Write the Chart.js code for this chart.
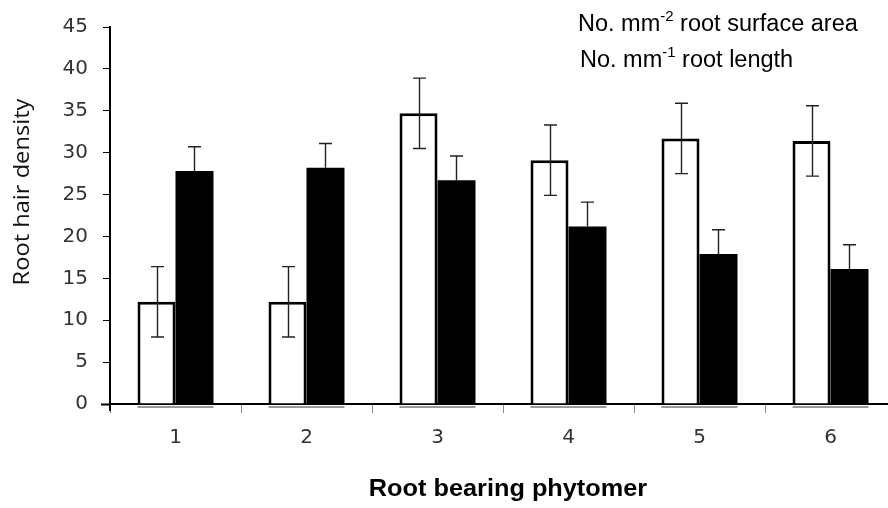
<!DOCTYPE html>
<html>
<head>
<meta charset="utf-8">
<script src="https://cdn.jsdelivr.net/npm/chart.js@4.4.1/dist/chart.umd.min.js"></script>
<style>
    html, body { margin: 0; padding: 0; background: #fff; overflow: hidden; }
    #wrap { width: 896px; height: 508px; }
</style>
</head>
<body>
<div id="wrap"><canvas id="chart" width="896" height="508"></canvas></div>
<script>
const categories = ['1', '2', '3', '4', '5', '6'];
const surfaceValues = [12.2, 12.2, 34.7, 29.1, 31.7, 31.4];
const surfaceErrors = [4.2, 4.2, 4.2, 4.2, 4.2, 4.2];
const lengthValues = [27.8, 28.2, 26.7, 21.2, 17.9, 16.1];
const lengthErrors = [2.9, 2.9, 2.9, 2.9, 2.9, 2.9];
const yTicks = [0, 5, 10, 15, 20, 25, 30, 35, 40, 45];

// error bars, drawn through the scales (black bars only show the upper half)
const errorBars = {
    id: 'errorBars',
    afterDatasetsDraw(chart) {
        const { ctx, scales: { y } } = chart;
        const errs = [surfaceErrors, lengthErrors];
        ctx.save();
        ctx.strokeStyle = '#222';
        ctx.lineWidth = 1.4;
        chart.data.datasets.forEach((ds, i) => {
            chart.getDatasetMeta(i).data.forEach((bar, j) => {
                const v = ds.data[j], e = errs[i][j];
                const top = y.getPixelForValue(v + e);
                const bot = i === 0 ? y.getPixelForValue(v - e) : y.getPixelForValue(v);
                const x = Math.round(bar.x) + 0.5;
                ctx.beginPath();
                ctx.moveTo(x, top); ctx.lineTo(x, bot);
                ctx.moveTo(x - 6.5, top); ctx.lineTo(x + 6.5, top);
                if (i === 0) { ctx.moveTo(x - 6.5, bot); ctx.lineTo(x + 6.5, bot); }
                ctx.stroke();
            });
        });
        // grey bottom edge under each pair of bars
        const a = chart.getDatasetMeta(0).data, b = chart.getDatasetMeta(1).data;
        ctx.strokeStyle = '#777';
        ctx.lineWidth = 1.5;
        a.forEach((bar, j) => {
            const yb = chart.chartArea.bottom + 3;
            ctx.beginPath();
            ctx.moveTo(bar.x - bar.width / 2, yb);
            ctx.lineTo(b[j].x + b[j].width / 2, yb);
            ctx.stroke();
        });
        ctx.restore();
    }
};

function stretchedText(ctx, text, x, y, sx, font, align) {
    ctx.save();
    ctx.font = font;
    ctx.translate(x, y);
    ctx.scale(sx, 1);
    ctx.textAlign = align;
    ctx.textBaseline = 'middle';
    ctx.fillText(text, 0, 0);
    ctx.restore();
}

// text-only legend, axis titles
const annotations = {
    id: 'annotations',
    afterDraw(chart) {
        const { ctx, chartArea } = chart;
        ctx.save();
        ctx.fillStyle = '#000';
        ctx.textBaseline = 'alphabetic';
        const big = '23.5px "Liberation Sans", Arial, sans-serif';
        const small = '15px "Liberation Sans", Arial, sans-serif';
        const lines = [['No. mm', '-2', ' root surface area', 578, 31], ['No. mm', '-1', ' root length', 580, 67]];
        lines.forEach(([a, sup, b, x, yb]) => {
            ctx.font = big;
            ctx.fillText(a, x, yb);
            let w = ctx.measureText(a).width;
            ctx.font = small;
            ctx.fillText(sup, x + w, yb - 10);
            w += ctx.measureText(sup).width;
            ctx.font = big;
            ctx.fillText(b, x + w, yb);
        });
        // x axis title
        stretchedText(ctx, 'Root bearing phytomer', 508, 490, 1.1,
            'bold 23px "Liberation Sans", Arial, sans-serif', 'center');
        // y axis title
        ctx.save();
        ctx.translate(23, 192);
        ctx.rotate(-Math.PI / 2);
        ctx.fillStyle = '#111';
        stretchedText(ctx, 'Root hair density', 0, 0, 1.1, '21.5px "Open Sans", sans-serif', 'center');
        ctx.restore();
        ctx.restore();
        // axis stubs past the corner
        ctx.save();
        ctx.strokeStyle = '#000';
        ctx.lineWidth = 2;
        ctx.beginPath();
        ctx.moveTo(101, chartArea.bottom + 0.5);
        ctx.lineTo(chartArea.left, chartArea.bottom + 0.5);
        ctx.moveTo(chartArea.left, chartArea.bottom);
        ctx.lineTo(chartArea.left, chartArea.bottom + 7);
        ctx.stroke();
        ctx.restore();
    }
};

new Chart(document.getElementById('chart'), {
    type: 'bar',
    data: {
        labels: categories,
        datasets: [{
            label: 'No. mm-2 root surface area',
            data: surfaceValues,
            backgroundColor: '#fff',
            borderColor: '#000',
            borderWidth: 3,
            borderSkipped: 'start',
        }, {
            label: 'No. mm-1 root length',
            data: lengthValues,
            backgroundColor: '#000',
            borderWidth: 0,
        }],
    },
    options: {
        responsive: false,
        animation: false,
        layout: { padding: { left: 0, top: 22, right: 0, bottom: 0 } },
        datasets: { bar: { categoryPercentage: 0.58, barPercentage: 1 } },
        scales: {
            x: {
                afterFit: s => { s.height = 104; },
                grid: { drawOnChartArea: false, drawTicks: true, tickLength: 9, color: '#888', offset: true },
                border: { color: '#000', width: 2 },
                ticks: { font: { family: '"DejaVu Sans"', size: 20 }, color: '#333', padding: 13 },
            },
            y: {
                min: 0, max: 45,
                afterFit: s => { s.width = 110; },
                afterBuildTicks: s => { s.ticks = yTicks.map(v => ({ value: v })); },
                grid: { drawOnChartArea: false, drawTicks: true, tickLength: 7, color: '#000' },
                border: { color: '#000', width: 2 },
                ticks: { font: { family: '"DejaVu Sans"', size: 20 }, color: '#333', padding: 15 },
            },
        },
        plugins: {
            legend: { display: false },
            tooltip: { enabled: false },
        },
    },
    plugins: [errorBars, annotations],
});
</script>
</body>
</html>
